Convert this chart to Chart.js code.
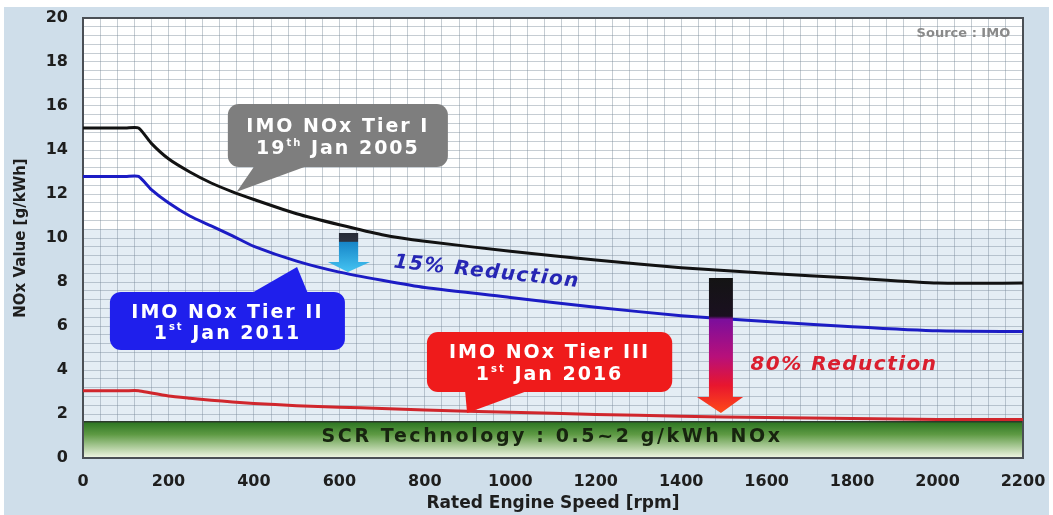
<!DOCTYPE html>
<html>
<head>
<meta charset="utf-8">
<script src="https://cdn.jsdelivr.net/npm/chart.js@4.4.1/dist/chart.umd.min.js"></script>
<style>
  html, body { margin: 0; padding: 0; background: #fff; }
  #wrap { width: 1053px; height: 515px; }
</style>
</head>
<body>
<div id="wrap"><canvas id="noxChart"></canvas></div>
<script>
// 回転数 [rpm] と各Tierの規制値 [g/kWh]
const rpm   = [0, 100, 130, 160, 200, 250, 300, 350, 400, 500, 600, 700, 800, 1000, 1200, 1400, 1600, 1800, 2000, 2200];
const tier1 = [15.0, 15.0, 15.0, 14.3, 13.6, 13.0, 12.5, 12.1, 11.75, 11.1, 10.6, 10.15, 9.85, 9.4, 9.0, 8.65, 8.4, 8.18, 7.95, 7.95];
const tier2 = [12.8, 12.8, 12.8, 12.2, 11.6, 11.0, 10.55, 10.1, 9.62, 8.95, 8.45, 8.08, 7.75, 7.3, 6.85, 6.47, 6.2, 5.97, 5.78, 5.75];
const tier3 = [3.06, 3.06, 3.06, 2.95, 2.82, 2.72, 2.63, 2.55, 2.48, 2.38, 2.31, 2.25, 2.18, 2.08, 1.98, 1.9, 1.84, 1.79, 1.75, 1.75];

const xTickStep = 40;    // 細かい方眼
const yTickStep = 0.4;
const xLabelEvery = 200; // ラベルを出す間隔
const yLabelEvery = 2;

const FONT = "'DejaVu Sans', 'Liberation Sans', sans-serif";

const toPoints = (xs, ys) => xs.map((x, i) => ({ x: x, y: ys[i] }));

// 吹き出し・矢印などの注記（データ座標: rpm / g/kWh）
const callouts = [
  { x0: 339, x1: 854, y0: 13.23, y1: 16.09, color: '#7e7e7e', baseY: 'bottom', base: [403, 531], tip: [360, 12.1],
    lines: [[{ t: 'IMO NOx Tier I' }], [{ t: '19' }, { t: 'th', sup: true }, { t: ' Jan 2005' }]] },
  { x0: 63, x1: 613, y0: 4.91, y1: 7.55, color: '#1f1fec', baseY: 'top', base: [391, 527], tip: [501, 8.68],
    lines: [[{ t: 'IMO NOx Tier II' }], [{ t: '1' }, { t: 'st', sup: true }, { t: ' Jan 2011' }]] },
  { x0: 805, x1: 1379, y0: 3.0, y1: 5.73, color: '#ef1b1b', baseY: 'bottom', base: [894, 1046], tip: [899, 2.05],
    lines: [[{ t: 'IMO NOx Tier III' }], [{ t: '1' }, { t: 'st', sup: true }, { t: ' Jan 2016' }]] }
];

const arrows = [
  { body: [599, 644], head: [573, 672], tip: [620, 8.45], top: 10.23, headBase: 8.91,
    stops: [[10.23, '#262b36'], [9.85, '#2d3340'], [9.8, '#1786c8'], [8.45, '#45c4f2']] },
  { body: [1465, 1521], head: [1437, 1545], tip: [1493, 2.05], top: 8.18, headBase: 2.77,
    stops: [[8.18, '#141414'], [6.45, '#1a1020'], [6.3, '#7c0e9c'], [4.6, '#b8107a'], [3.3, '#e8162e'], [2.05, '#ff4a18']] }
];

function roundRect(ctx, x, y, w, h, r) {
  ctx.beginPath();
  ctx.moveTo(x + r, y);
  ctx.arcTo(x + w, y, x + w, y + h, r);
  ctx.arcTo(x + w, y + h, x, y + h, r);
  ctx.arcTo(x, y + h, x, y, r);
  ctx.arcTo(x, y, x + w, y, r);
  ctx.closePath();
}

function drawRichLine(ctx, segs, cx, cy, size) {
  const widths = segs.map(s => {
    ctx.font = 'bold ' + (s.sup ? Math.round(size * 0.55) : size) + 'px ' + FONT;
    return ctx.measureText(s.t).width;
  });
  let x = cx - widths.reduce((a, b) => a + b, 0) / 2;
  segs.forEach((s, i) => {
    ctx.font = 'bold ' + (s.sup ? Math.round(size * 0.55) : size) + 'px ' + FONT;
    ctx.fillText(s.t, x, s.sup ? cy - size * 0.32 : cy);
    x += widths[i];
  });
}

function drawArrow(ctx, xs, ys, a) {
  const bl = xs.getPixelForValue(a.body[0]), br = xs.getPixelForValue(a.body[1]);
  const hl = xs.getPixelForValue(a.head[0]), hr = xs.getPixelForValue(a.head[1]);
  const tx = xs.getPixelForValue(a.tip[0]), ty = ys.getPixelForValue(a.tip[1]);
  const top = ys.getPixelForValue(a.top), hb = ys.getPixelForValue(a.headBase);
  const g = ctx.createLinearGradient(0, top, 0, ty);
  a.stops.forEach(s => g.addColorStop((ys.getPixelForValue(s[0]) - top) / (ty - top), s[1]));
  ctx.fillStyle = g;
  ctx.beginPath();
  ctx.moveTo(bl, top); ctx.lineTo(br, top); ctx.lineTo(br, hb); ctx.lineTo(hr, hb);
  ctx.lineTo(tx, ty); ctx.lineTo(hl, hb); ctx.lineTo(bl, hb);
  ctx.closePath();
  ctx.fill();
}

const backgroundPlugin = {
  id: 'backgroundPlugin',
  beforeDraw(chart) {
    const { ctx, chartArea: a, width, height } = chart;
    const y = chart.scales.y;
    ctx.save();
    ctx.fillStyle = '#ffffff';
    ctx.fillRect(0, 0, width, height);
    ctx.fillStyle = '#cfdeea';
    ctx.fillRect(4, 7, width - 8, height - 7);
    ctx.fillStyle = '#ffffff';
    ctx.fillRect(a.left, a.top, a.width, a.height);
    // 下半分の薄い水色（背景の海）
    const sea = y.getPixelForValue(10.4);
    ctx.fillStyle = '#e4edf4';
    ctx.fillRect(a.left, sea, a.width, a.bottom - sea);
    ctx.restore();
  },
  beforeDatasetsDraw(chart) {
    const { ctx, chartArea: a } = chart;
    const xs = chart.scales.x, ys = chart.scales.y;
    ctx.save();
    // SCR帯
    const top = ys.getPixelForValue(1.65), bot = ys.getPixelForValue(0);
    const g = ctx.createLinearGradient(0, top, 0, bot);
    g.addColorStop(0, '#2a7420');
    g.addColorStop(0.35, '#5e9a44');
    g.addColorStop(1, '#f2f7e6');
    ctx.fillStyle = g;
    ctx.fillRect(a.left, top, a.width, bot - top);
    ctx.strokeStyle = '#2b3a2b';
    ctx.lineWidth = 1.5;
    ctx.beginPath(); ctx.moveTo(a.left, top); ctx.lineTo(a.right, top); ctx.stroke();
    ctx.fillStyle = '#17240f';
    ctx.font = 'bold 19px ' + FONT;
    ctx.textAlign = 'center';
    ctx.textBaseline = 'middle';
    if ('letterSpacing' in ctx) ctx.letterSpacing = '2.6px';
    ctx.fillText('SCR Technology : 0.5~2 g/kWh NOx', xs.getPixelForValue(1098), ys.getPixelForValue(0.95));
    // 枠線
    ctx.letterSpacing = '0px';
    ctx.strokeStyle = '#4a4f55';
    ctx.lineWidth = 2;
    ctx.strokeRect(a.left, a.top, a.width, a.height);
    ctx.restore();
  },
  afterDatasetsDraw(chart) {
    const { ctx } = chart;
    const xs = chart.scales.x, ys = chart.scales.y;
    ctx.save();
    callouts.forEach(c => {
      const l = xs.getPixelForValue(c.x0), r = xs.getPixelForValue(c.x1);
      const t = ys.getPixelForValue(c.y1), b = ys.getPixelForValue(c.y0);
      ctx.fillStyle = c.color;
      roundRect(ctx, l, t, r - l, b - t, 11);
      ctx.fill();
      const by = c.baseY === 'bottom' ? b - 2 : t + 2;
      ctx.beginPath();
      ctx.moveTo(xs.getPixelForValue(c.base[0]), by);
      ctx.lineTo(xs.getPixelForValue(c.tip[0]), ys.getPixelForValue(c.tip[1]));
      ctx.lineTo(xs.getPixelForValue(c.base[1]), by);
      ctx.closePath();
      ctx.fill();
      ctx.fillStyle = '#ffffff';
      ctx.textAlign = 'left';
      ctx.textBaseline = 'middle';
      if ('letterSpacing' in ctx) ctx.letterSpacing = '2px';
      const cx = (l + r) / 2, h = b - t;
      drawRichLine(ctx, c.lines[0], cx, t + h * 0.36, 19);
      drawRichLine(ctx, c.lines[1], cx, t + h * 0.72, 19);
      ctx.letterSpacing = '0px';
    });
    arrows.forEach(a => drawArrow(ctx, xs, ys, a));

    ctx.textAlign = 'center';
    ctx.textBaseline = 'middle';
    ctx.font = 'italic bold 20px ' + FONT;
    if ('letterSpacing' in ctx) ctx.letterSpacing = '1.5px';
    // 15% Reduction（やや右下がり）
    ctx.save();
    ctx.translate(xs.getPixelForValue(945), ys.getPixelForValue(8.45));
    ctx.rotate(6 * Math.PI / 180);
    ctx.fillStyle = '#2626b4';
    ctx.fillText('15% Reduction', 0, 0);
    ctx.restore();
    // 80% Reduction
    ctx.fillStyle = '#da1f2e';
    ctx.fillText('80% Reduction', xs.getPixelForValue(1781), ys.getPixelForValue(4.23));
    ctx.letterSpacing = '0px';
    // 出典
    ctx.font = 'bold 13px ' + FONT;
    ctx.textAlign = 'right';
    ctx.fillStyle = '#8a8a8a';
    ctx.fillText('Source : IMO', xs.getPixelForValue(2170), ys.getPixelForValue(19.3));
    ctx.restore();
  }
};

const gridColor = 'rgba(120,135,150,0.42)';

// 軸のはみ出し余白を無効にして、プロット領域を固定する
function fixScaleBox(scale, prop, size) {
  scale[prop] = size;
  scale.paddingTop = 0;
  scale.paddingBottom = 0;
  scale.paddingLeft = 0;
  scale.paddingRight = 0;
}

new Chart(document.getElementById('noxChart'), {
  type: 'line',
  data: {
    datasets: [
      { label: 'Tier I', data: toPoints(rpm, tier1), borderColor: '#121212', borderWidth: 3 },
      { label: 'Tier II', data: toPoints(rpm, tier2), borderColor: '#1c1cc4', borderWidth: 3 },
      { label: 'Tier III', data: toPoints(rpm, tier3), borderColor: '#d0262c', borderWidth: 3 }
    ]
  },
  options: {
    responsive: true,
    maintainAspectRatio: false,
    animation: false,
    elements: {
      point: { radius: 0, hoverRadius: 0 },
      line: { tension: 0.2, fill: false }
    },
    layout: { padding: { top: 18, right: 30, left: 0, bottom: 0 } },
    plugins: { legend: { display: false }, tooltip: { enabled: false } },
    scales: {
      x: {
        type: 'linear',
        min: 0,
        max: 2200,
        afterFit: scale => fixScaleBox(scale, 'height', 57),
        grid: { color: gridColor, lineWidth: 1, drawTicks: false },
        border: { display: false },
        ticks: {
          stepSize: xTickStep,
          autoSkip: false,
          maxRotation: 0,
          padding: 14,
          color: '#1e1e1e',
          font: { family: FONT, size: 16, weight: 'bold' },
          callback: v => (v % xLabelEvery === 0 ? v : '')
        },
        title: {
          display: true,
          text: 'Rated Engine Speed [rpm]',
          color: '#1e1e1e',
          font: { family: FONT, size: 17, weight: 'bold' },
          padding: { top: 0, bottom: 1 }
        }
      },
      y: {
        min: 0,
        max: 20,
        afterFit: scale => fixScaleBox(scale, 'width', 83),
        grid: { color: gridColor, lineWidth: 1, drawTicks: false },
        border: { display: false },
        ticks: {
          stepSize: yTickStep,
          autoSkip: false,
          padding: 15,
          color: '#1e1e1e',
          font: { family: FONT, size: 16, weight: 'bold' },
          callback: v => (Math.abs(v / yLabelEvery - Math.round(v / yLabelEvery)) < 1e-6 ? Math.round(v) : '')
        },
        title: {
          display: true,
          text: 'NOx Value [g/kWh]',
          color: '#1e1e1e',
          font: { family: FONT, size: 15, weight: 'bold' },
          padding: { top: 12, bottom: 0 }
        }
      }
    }
  },
  plugins: [backgroundPlugin]
});
</script>
</body>
</html>
